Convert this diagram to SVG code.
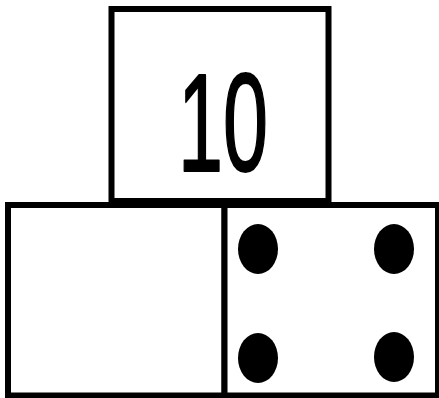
<svg xmlns="http://www.w3.org/2000/svg" width="439" height="398" viewBox="0 0 439 398">
<style>
.box{fill:#fff;stroke:#000;stroke-width:6}
.dot{fill:#000}
.num{font-family:"Liberation Sans",Arial,sans-serif;font-weight:normal;font-size:140px;fill:#000;stroke:#000;stroke-width:2;stroke-linejoin:round}
</style>
<rect width="439" height="398" fill="#fff"/>
<g id="top-box">
<rect class="box" x="111.5" y="9" width="217" height="192"/>
<text class="num" x="178" y="171" textLength="90" lengthAdjust="spacingAndGlyphs">10</text>
</g>
<g id="left-box">
<rect class="box" x="8" y="205" width="216.5" height="190.5"/>
</g>
<g id="right-box">
<rect class="box" x="224.5" y="205" width="213.5" height="190.5"/>
<ellipse class="dot" cx="258" cy="249" rx="20" ry="25"/>
<ellipse class="dot" cx="394" cy="249" rx="20" ry="25"/>
<ellipse class="dot" cx="258" cy="358" rx="20" ry="25"/>
<ellipse class="dot" cx="394" cy="357" rx="20" ry="25"/>
</g>
<g id="connectors"></g>
</svg>
